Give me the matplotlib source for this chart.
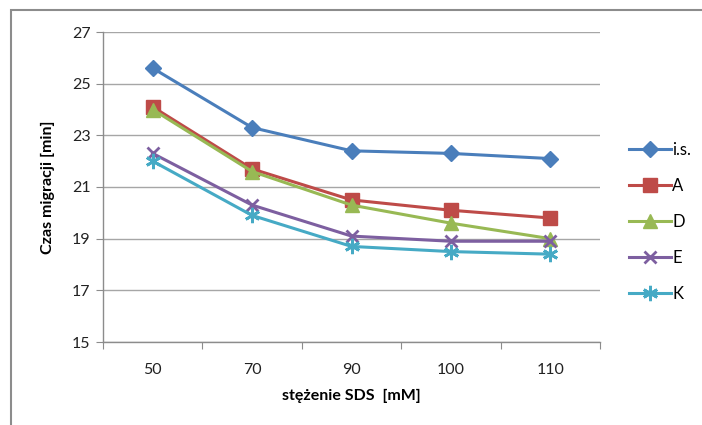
import matplotlib.pyplot as plt
from matplotlib.patches import Rectangle

plt.rcParams['font.family'] = ['Lato', 'DejaVu Sans']

categories = ['50', '70', '90', '100', '110']
series_names = ['i.s.', 'A', 'D', 'E', 'K']
is_vals = [25.6, 23.3, 22.4, 22.3, 22.1]
a_vals = [24.1, 21.7, 20.5, 20.1, 19.8]
d_vals = [24.0, 21.6, 20.3, 19.6, 19.0]
e_vals = [22.3, 20.3, 19.1, 18.9, 18.9]
k_vals = [22.0, 19.9, 18.7, 18.5, 18.4]

colors = ['#4A7EBB', '#BE4B48', '#98B954', '#7D5FA0', '#46AAC5']
markers = ['D', 's', '^', 'x', (6, 2, 0)]
msizes = [8, 10, 10, 9, 11]

fig = plt.figure(figsize=(7.02, 4.25), dpi=100)
W, H = 702, 425
# outer chart frame, cut off on the right and at the bottom
fig.patches.append(Rectangle((11 / W, -0.1), 1.2, 1.1 - 10 / H, transform=fig.transFigure,
                             fill=False, edgecolor='#8C8C8C', linewidth=1.5))

ax = fig.add_axes([103 / W, 1 - 342 / H, (600 - 103) / W, (342 - 32) / H])
x = list(range(len(categories)))
all_vals = [is_vals, a_vals, d_vals, e_vals, k_vals]
for vals, name, c, m, ms in zip(all_vals, series_names, colors, markers, msizes):
    mew = 2 if m in ('x',) or isinstance(m, tuple) else 1
    ax.plot(x, vals, color=c, lw=2.2, marker=m, markersize=ms, markeredgewidth=mew,
            markerfacecolor=c, markeredgecolor=c, label=name)

ax.set_ylim(15, 27)
ax.set_yticks([15, 17, 19, 21, 23, 25, 27])
ax.set_xlim(-0.5, len(categories) - 0.5)
ax.set_xticks([i - 0.5 for i in range(len(categories) + 1)])
ax.set_xticklabels([])
ax.set_xticks(x, minor=True)
ax.set_xticklabels(categories, minor=True)
ax.tick_params(axis='x', which='major', length=5, color='#8C8C8C', direction='out')
ax.tick_params(axis='x', which='minor', length=0, pad=15, labelsize=11.5, labelcolor='#222222')
ax.tick_params(axis='y', length=5, color='#8C8C8C', labelsize=11.5, labelcolor='#222222', pad=4)
ax.grid(axis='y', color='#A6A6A6', lw=1)
ax.set_axisbelow(True)
for s in ['top', 'right']:
    ax.spines[s].set_visible(False)
for s in ['left', 'bottom']:
    ax.spines[s].set_color('#8C8C8C')
    ax.spines[s].set_linewidth(1)

ax.set_ylabel('Czas migracji [min]', fontsize=11.5, fontweight='bold', labelpad=12)
ax.set_xlabel('stężenie SDS  [mM]', fontsize=11.5, fontweight='bold', labelpad=9)

fig.legend(loc='upper left', bbox_to_anchor=(629 / W, 1 - 142 / H), frameon=False,
           fontsize=12, handlelength=2.5, handletextpad=0.1, labelspacing=1.2,
           borderaxespad=0, borderpad=0)

fig.savefig('out.png', dpi=100)
